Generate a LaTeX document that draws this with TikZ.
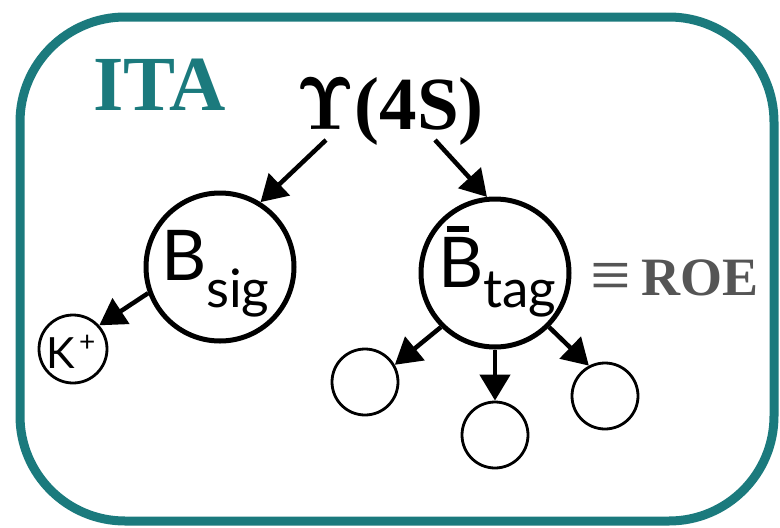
\documentclass[tikz,border=0pt]{standalone}
\usepackage{fontspec}
\setmainfont{Liberation Serif}
\newfontfamily\gillfont{Lato}
\newcommand{\lmgreek}{\fontfamily{lmr}\selectfont}
\usetikzlibrary{arrows.meta}
\definecolor{frameteal}{RGB}{27,122,125}
\definecolor{roegray}{RGB}{85,85,85}
\tikzset{
  bigball/.style={circle, draw, line width=5pt, minimum size=148pt, inner sep=0pt},
  smallball/.style={circle, draw, line width=2.8pt, minimum size=66pt, inner sep=0pt},
  decay/.style={line width=4.5pt, -{Triangle[length=26pt,width=30pt]}},
  txt/.style={anchor=base west, inner sep=0pt},
}
\begin{document}
\begin{tikzpicture}[x=1pt,y=-1pt]
\useasboundingbox (0,0) rectangle (780,528);
% outer frame
\draw[frameteal, line width=9pt, rounded corners=105pt] (20,17) rectangle (774,521);

% labels
\node[txt, text=frameteal] (ita) at (93,110) {\fontsize{78}{78}\selectfont\bfseries ITA};
\node[txt] (ups) at (296,129) {\fontsize{75}{75}\selectfont\bfseries {\lmgreek Υ}(4S)};

% mesons
\node[bigball] (bsig) at (220,267) {};
\node[bigball] (btag) at (495,273) {};
\node[smallball, minimum size=68pt] (kp) at (73,349) {};
\node[smallball] (c1) at (365,382) {};
\node[smallball] (c2) at (495,435) {};
\node[smallball] (c3) at (605,396) {};

% particle names
\node[txt] (bsigB) at (161,280) {\gillfont\fontsize{70}{70}\selectfont B};
\node[txt] (bsigS) at (206,307) {\gillfont\fontsize{53}{53}\selectfont sig};
\node[txt] (btagB) at (438,287) {\gillfont\fontsize{70}{70}\selectfont B};
\fill (447,226) rectangle (469,232); % bar of the anti-B
\node[txt] (btagS) at (483,307) {\gillfont\fontsize{53}{53}\selectfont tag};
\node[txt] (kK) at (46,368) {\gillfont\fontsize{43}{43}\selectfont K};
\node[txt] (kplus) at (79,351) {\gillfont\fontsize{28}{28}\selectfont +};

\node[text=roegray, inner sep=0pt] (eqv) at (611,281) {\fontsize{72}{72}\selectfont ≡};
\node[txt, text=roegray] (roe) at (641,295) {\fontsize{54}{54}\selectfont\bfseries ROE};

% decay arrows
\coordinate (upsL) at (326,140);
\coordinate (upsR) at (435,140);
\draw[decay] (upsL) -- (bsig.58);
\draw[decay] (upsR) -- (btag.96);
\draw[decay] (bsig.200) -- (kp.42);
\draw[decay] (btag.225) -- (c1.30);
\draw[decay] (btag.south) -- (c2.north);
\draw[decay] (btag.-45) -- (c3.118);
\end{tikzpicture}
\end{document}
